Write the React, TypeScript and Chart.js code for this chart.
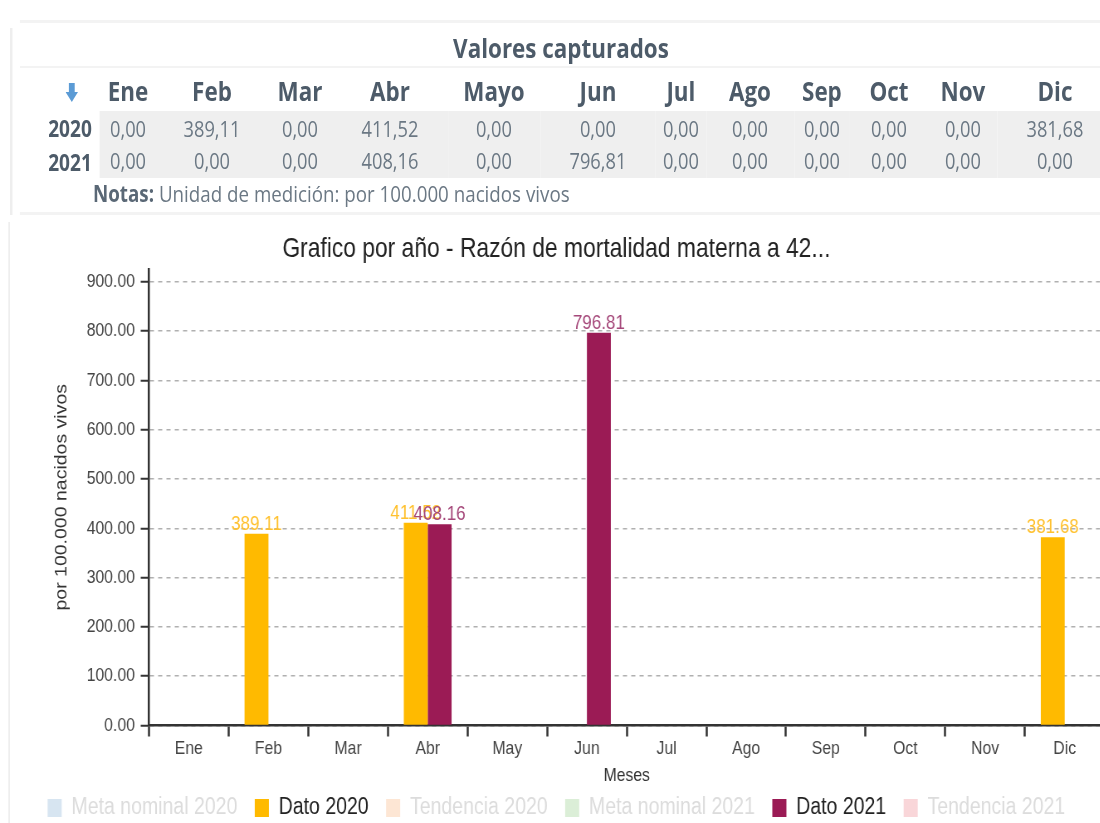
import React, { useEffect, useRef } from 'react';
import { Chart, registerables } from 'chart.js';

Chart.register(...registerables);

// ---------- data ----------
const months = ['Ene', 'Feb', 'Mar', 'Abr', 'May', 'Jun', 'Jul', 'Ago', 'Sep', 'Oct', 'Nov', 'Dic'];
const tableMonths = ['Ene', 'Feb', 'Mar', 'Abr', 'Mayo', 'Jun', 'Jul', 'Ago', 'Sep', 'Oct', 'Nov', 'Dic'];
const years = ['2020', '2021'];
const dato2020 = [0, 389.11, 0, 411.52, 0, 0, 0, 0, 0, 0, 0, 381.68];
const dato2021 = [0, 0, 0, 408.16, 0, 796.81, 0, 0, 0, 0, 0, 0];
const metaNominal2020: number[] = [];
const tendencia2020: number[] = [];
const metaNominal2021: number[] = [];
const tendencia2021: number[] = [];
const yTickValues = [0, 100, 200, 300, 400, 500, 600, 700, 800, 900];
const legendNames = ['Meta nominal 2020', 'Dato 2020', 'Tendencia 2020', 'Meta nominal 2021', 'Dato 2021', 'Tendencia 2021'];

// ---------- style ----------
const S = 0.83; // horizontal squeeze of the reference
const FONT = "'Liberation Sans', Arial, sans-serif";
const C2020 = '#FFBA00';
const C2021 = '#9B1B55';
const legendBoxColors = ['#d7e5f1', C2020, '#fde6d4', '#dbeed7', C2021, '#f9d6d9'];
const legendTextColors = ['#dcdcdc', '#222222', '#dcdcdc', '#dcdcdc', '#222222', '#dcdcdc'];
const colWidthsRef = [60, 56, 112, 64, 116, 92, 116, 50, 88, 56, 78, 70, 114];

const fmtComma = (v: number) => v.toFixed(2).replace('.', ',');

const valueLabels = {
  id: 'valueLabels',
  afterDatasetsDraw(chart: any) {
    const ctx = chart.ctx;
    chart.data.datasets.forEach((ds: any, i: number) => {
      const meta = chart.getDatasetMeta(i);
      if (meta.type !== 'bar' || meta.hidden) return;
      ctx.save();
      ctx.font = `20.5px ${FONT}`;
      ctx.fillStyle = ds.valueLabelColor;
      ctx.textAlign = 'center';
      ctx.textBaseline = 'alphabetic';
      meta.data.forEach((el: any, j: number) => {
        const v = ds.data[j];
        if (!v) return;
        ctx.fillText(Number(v).toFixed(2), el.x, el.y - 4);
      });
      ctx.restore();
    });
  },
};

function BarChart() {
  const ref = useRef<HTMLCanvasElement | null>(null);
  useEffect(() => {
    if (!ref.current) return;
    Chart.defaults.font.family = FONT;
    const chart = new Chart(ref.current, {
      type: 'bar',
      data: {
        labels: months,
        datasets: [
          { type: 'line', label: legendNames[0], data: metaNominal2020, hidden: true, borderColor: legendBoxColors[0], backgroundColor: legendBoxColors[0] },
          { type: 'bar', label: legendNames[1], data: dato2020, backgroundColor: C2020, valueLabelColor: '#FFC12E' } as any,
          { type: 'line', label: legendNames[2], data: tendencia2020, hidden: true, borderColor: legendBoxColors[2], backgroundColor: legendBoxColors[2] },
          { type: 'line', label: legendNames[3], data: metaNominal2021, hidden: true, borderColor: legendBoxColors[3], backgroundColor: legendBoxColors[3] },
          { type: 'bar', label: legendNames[4], data: dato2021, backgroundColor: C2021, valueLabelColor: '#A5487A' } as any,
          { type: 'line', label: legendNames[5], data: tendencia2021, hidden: true, borderColor: legendBoxColors[5], backgroundColor: legendBoxColors[5] },
        ],
      },
      options: {
        responsive: false,
        animation: false,
        devicePixelRatio: 1,
        datasets: { bar: { categoryPercentage: 0.6, barPercentage: 1.0 } },
        layout: { padding: { left: 0, right: 9.3, top: 0, bottom: 2.25 } },
        scales: {
          x: {
            ticks: { color: '#444', font: { size: 19 }, padding: 0.5 },
            grid: { offset: true, drawOnChartArea: false, drawTicks: true, tickLength: 11, tickColor: '#333', tickWidth: 2.5 },
            border: { display: true, color: '#333', width: 2.5 },
            title: { display: true, text: 'Meses', color: '#333', font: { size: 19 }, padding: { top: 4.3, bottom: -12.15 } },
          },
          y: {
            min: 0,
            max: 926,
            afterBuildTicks: (axis: any) => {
              axis.ticks = yTickValues.map((value) => ({ value }));
            },
            ticks: { color: '#444', font: { size: 19 }, padding: 7, callback: (v: any) => Number(v).toFixed(2) },
            grid: { color: '#b0b0b0', lineWidth: 1.5, drawTicks: true, tickLength: 10, tickColor: '#333', tickWidth: 2, tickBorderDash: [] },
            border: { display: true, color: '#333', width: 2.5, dash: [5, 5] },
            title: { display: true, text: 'por 100.000 nacidos vivos', color: '#333', font: { size: 19.5 }, padding: { top: 53, bottom: 11 } },
          },
        },
        plugins: {
          title: {
            display: true,
            text: 'Grafico por año - Razón de mortalidad materna a 42...',
            color: '#222',
            font: { size: 27.5, weight: 'normal' },
            padding: { top: 10.5, bottom: 3.5 },
          },
          legend: {
            position: 'bottom',
            labels: {
              boxWidth: 17,
              boxHeight: 18,
              padding: 21,
              font: { size: 23.5 },
              generateLabels: (c: any) =>
                c.data.datasets.map((ds: any, i: number) => ({
                  text: ds.label,
                  fillStyle: legendBoxColors[i],
                  strokeStyle: legendBoxColors[i],
                  lineWidth: 0,
                  hidden: false,
                  fontColor: legendTextColors[i],
                  datasetIndex: i,
                })),
            },
          },
          tooltip: { enabled: false },
        },
      } as any,
      plugins: [valueLabels],
    });
    return () => chart.destroy();
  }, []);
  return <canvas ref={ref} width={1330} height={610} style={{ position: 'absolute', left: 10, top: 222 }} />;
}

function ArrowIcon() {
  return (
    <svg width="15" height="19" viewBox="0 0 15 19" style={{ display: 'inline-block', verticalAlign: 'middle', marginLeft: 4 }}>
      <rect x="4" y="0" width="7" height="10" fill="#5b9bd5" />
      <polygon points="0,9 15,9 7.5,19" fill="#5b9bd5" />
    </svg>
  );
}

export default function App() {
  const hdrColor = '#4d5b69';
  const valColor = '#6b7884';
  const cellBase: React.CSSProperties = { padding: 0, textAlign: 'center', whiteSpace: 'nowrap' };
  return (
    <div style={{ position: 'absolute', left: 0, top: 0, width: 1100, height: 823, overflow: 'hidden', background: '#fff' }}>
      <div
        style={{
          position: 'absolute',
          left: 0,
          top: 0,
          width: 1100 / S,
          height: 823,
          transform: `scaleX(${S})`,
          transformOrigin: '0 0',
        }}
      >
        {/* panel decorations */}
        <div style={{ position: 'absolute', left: 20 / S, top: 20, width: 1100 / S, height: 3, background: '#f3f3f3' }} />
        <div style={{ position: 'absolute', left: 20 / S, top: 66, width: 1100 / S, height: 2, background: '#f3f3f3' }} />
        <div style={{ position: 'absolute', left: 20 / S, top: 212, width: 1100 / S, height: 3, background: '#f3f3f3' }} />
        <div style={{ position: 'absolute', left: 10 / S, top: 28, width: 2.5, height: 187, background: '#eeeeee' }} />
        <div style={{ position: 'absolute', left: 8 / S, top: 222, width: 2.5, height: 601, background: '#eeeeee' }} />

        <div
          style={{
            position: 'absolute',
            left: 561 / S - 300,
            top: 30,
            width: 600,
            textAlign: 'center',
            fontFamily: "'Open Sans', sans-serif",
            fontWeight: 700,
            fontSize: 27,
            lineHeight: '36px',
            color: hdrColor,
          }}
        >
          Valores capturados
        </div>

        <table
          style={{
            position: 'absolute',
            left: 40 / S,
            top: 70,
            borderCollapse: 'collapse',
            tableLayout: 'fixed',
            width: colWidthsRef.reduce((a, b) => a + b, 0) / S,
            fontFamily: "'Open Sans', sans-serif",
          }}
        >
          <colgroup>
            {colWidthsRef.map((w, i) => (
              <col key={i} style={{ width: w / S }} />
            ))}
          </colgroup>
          <thead>
            <tr style={{ height: 41 }}>
              <th style={{ ...cellBase }}>
                <ArrowIcon />
              </th>
              {tableMonths.map((m) => (
                <th key={m} style={{ ...cellBase, fontWeight: 700, fontSize: 27, color: hdrColor }}>
                  {m}
                </th>
              ))}
            </tr>
          </thead>
          <tbody>
            {[dato2020, dato2021].map((row, r) => (
              <tr key={r} style={{ height: r === 0 ? 34 : 33 }}>
                <td style={{ ...cellBase, fontWeight: 700, fontSize: 23, color: hdrColor }}>{years[r]}</td>
                {row.map((v, i) => (
                  <td key={i} style={{ ...cellBase, background: '#efefef', fontSize: 22, color: valColor, verticalAlign: r === 0 ? 'middle' : 'top', paddingTop: 0 }}>
                    {fmtComma(v)}
                  </td>
                ))}
              </tr>
            ))}
          </tbody>
        </table>

        <div
          style={{
            position: 'absolute',
            left: 93 / S,
            top: 179,
            fontFamily: "'Open Sans', sans-serif",
            fontSize: 22.6,
            lineHeight: '30px',
            color: valColor,
            whiteSpace: 'nowrap',
          }}
        >
          <span style={{ fontWeight: 700, color: '#5a6876' }}>Notas:</span> Unidad de medición: por 100.000 nacidos vivos
        </div>

        <BarChart />
      </div>
    </div>
  );
}
